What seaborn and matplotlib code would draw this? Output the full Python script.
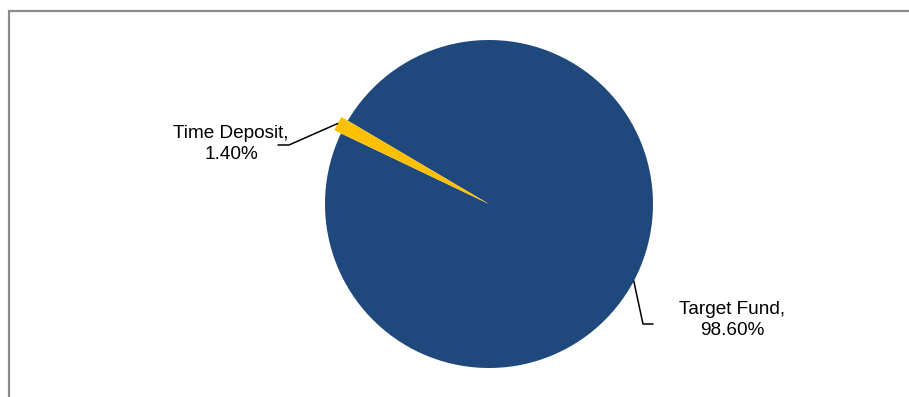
import numpy as np
import matplotlib
matplotlib.use("Agg")
import matplotlib.pyplot as plt
import seaborn as sns
from matplotlib.patches import Rectangle

# data
labels = ["Time Deposit", "Target Fund"]
values = [1.40, 98.60]
colors = ["#FFC000", "#1F497D"]

sns.set_theme(style="white")
plt.rcParams['font.family'] = ['Liberation Sans', 'DejaVu Sans']

W, H, DPI = 909, 397, 100
CX, CY, R = 489, 204, 164  # pie centre / radius in pixels


def px(x, y):
    return (x - CX) / R, (CY - y) / R


fig = plt.figure(figsize=(W / DPI, H / DPI), dpi=DPI)
fig.patches.append(Rectangle((8.5 / W, -0.1), 1.2, (H - 10.5) / H + 0.1,
                             transform=fig.transFigure, fill=False,
                             edgecolor="#8c8c8c", linewidth=1.6))

ax = fig.add_axes([0, 0, 1, 1])
wedges, _ = ax.pie(values, colors=colors, startangle=154.5, counterclock=False,
                   wedgeprops=dict(linewidth=0))
wedges[0].set_radius(1.045)
wedges[0].set_zorder(3)

ax.set_xlim(-CX / R, (W - CX) / R)
ax.set_ylim(-(H - CY) / R, CY / R)
ax.set_aspect("equal", adjustable="datalim")
ax.axis("off")

# label layout: (elbow px, end px, text px)
layout = [((289, 145), (278, 145), (231, 144)),
          ((643, 324), (653, 324), (732, 320))]

for w, lab, val, (elbow, end, txt) in zip(wedges, labels, values, layout):
    mid = np.deg2rad((w.theta1 + w.theta2) / 2)
    r = w.r
    ax0, ay0 = r * np.cos(mid), r * np.sin(mid)
    ex, ey = px(*elbow)
    fx, fy = px(*end)
    ax.plot([ax0, ex, fx], [ay0, ey, fy], color="black", lw=1.1, zorder=4)
    tx, ty = px(*txt)
    ax.text(tx, ty, f"{lab},\n{val:.2f}%", ha="center", va="center",
            fontsize=13.7, linespacing=1.35, color="black")

fig.savefig("out.png", dpi=DPI)
